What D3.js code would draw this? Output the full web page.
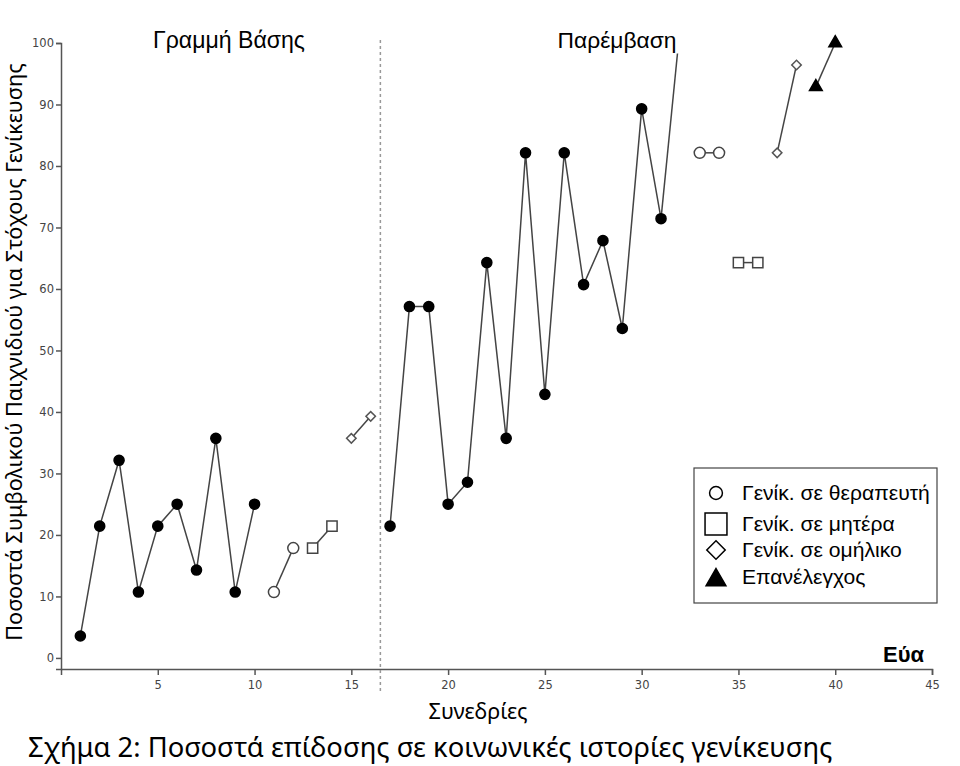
<!DOCTYPE html>
<html>
<head>
<meta charset="utf-8">
<script src="https://cdn.jsdelivr.net/npm/d3@7"></script>
<style>
  body { margin: 0; background: #fff; }
  .axis path, .axis line { stroke: #555; stroke-width: 1.5; }
  .axis text { font-family: 'DejaVu Sans', sans-serif; font-size: 11.5px; fill: #444; }
  .line { fill: none; stroke: #444; stroke-width: 1.5; }
</style>
</head>
<body>
<svg id="chart" width="960" height="766"></svg>
<script>
'use strict';

// sessions and values, one pair of arrays per connected group
var baseSessions = [1, 2, 3, 4, 5, 6, 7, 8, 9, 10];
var baseValues = [3.57, 21.43, 32.14, 10.71, 21.43, 25, 14.29, 35.71, 10.71, 25];

var interSessions = [17, 18, 19, 20, 21, 22, 23, 24, 25, 26, 27, 28, 29, 30, 31];
var interValues = [21.43, 57.14, 57.14, 25, 28.57, 64.29, 35.71, 82.14, 42.86, 82.14, 60.71, 67.86, 53.57, 89.29, 71.43];

// stray leader line from the last intervention point up to the label
var leaderSessions = [31, 31.85];
var leaderValues = [71.43, 98.3];

var therapistGroups = [[11, 12], [33, 34]];
var therapistValues = [[10.71, 17.86], [82.14, 82.14]];

var motherGroups = [[13, 14], [35, 36]];
var motherValues = [[17.86, 21.43], [64.29, 64.29]];

var peerGroups = [[15, 16], [37, 38]];
var peerValues = [[35.71, 39.29], [82.14, 96.43]];

var followSessions = [39, 40];
var followValues = [92.86, 100];

var xTicks = [5, 10, 15, 20, 25, 30, 35, 40, 45];
var yTicks = [0, 10, 20, 30, 40, 50, 60, 70, 80, 90, 100];
var phaseChange = 16.5;

var legendLabels = ['Γενίκ. σε θεραπευτή', 'Γενίκ. σε μητέρα', 'Γενίκ. σε ομήλικο', 'Επανέλεγχος'];
var legendShapes = ['circle', 'square', 'diamond', 'triangle'];

var svg = d3.select('#chart');

var x = d3.scaleLinear().domain([0, 45]).range([61, 932]);
var y = d3.scaleLinear().domain([-1.8, 100]).range([669, 43]);

svg.append('g')
  .attr('class', 'axis')
  .attr('transform', 'translate(0,' + y(-1.8) + ')')
  .call(d3.axisBottom(x).tickValues(xTicks).tickSizeOuter(0).tickSize(6).tickPadding(6));

svg.append('g')
  .attr('class', 'axis')
  .attr('transform', 'translate(' + x(0) + ',0)')
  .call(d3.axisLeft(y).tickValues(yTicks).tickSizeOuter(0).tickSize(5).tickPadding(2));

// phase change line
svg.append('line')
  .attr('x1', x(phaseChange)).attr('x2', x(phaseChange))
  .attr('y1', 40).attr('y2', 692)
  .attr('stroke', '#999')
  .attr('stroke-width', 1.5)
  .attr('stroke-dasharray', '3,3');

var line = d3.line()
  .x(function(d) { return x(d[0]); })
  .y(function(d) { return y(d[1]); });

function pairs(s, v) {
  return s.map(function(d, i) { return [d, v[i]]; });
}

var groups = [
  pairs(baseSessions, baseValues),
  pairs(interSessions, interValues),
  pairs(leaderSessions, leaderValues),
  pairs(followSessions, followValues)
];
therapistGroups.forEach(function(s, i) { groups.push(pairs(s, therapistValues[i])); });
motherGroups.forEach(function(s, i) { groups.push(pairs(s, motherValues[i])); });
peerGroups.forEach(function(s, i) { groups.push(pairs(s, peerValues[i])); });

svg.append('g').selectAll('path')
  .data(groups)
  .enter().append('path')
  .attr('class', 'line')
  .attr('d', line);

// diamond is a square turned by 45 degrees, as in the original
function shapePath(type, size) {
  var map = { circle: d3.symbolCircle, square: d3.symbolSquare, diamond: d3.symbolSquare, triangle: d3.symbolTriangle };
  return d3.symbol().type(map[type]).size(size)();
}
function shapeRotate(type) {
  return type === 'diamond' ? ' rotate(45)' : '';
}

function drawMarkers(data, type, size, fill, stroke) {
  svg.append('g').selectAll('path')
    .data(data)
    .enter().append('path')
    .attr('transform', function(d) { return 'translate(' + x(d[0]) + ',' + y(d[1]) + ')' + shapeRotate(type); })
    .attr('d', shapePath(type, size))
    .attr('fill', fill)
    .attr('stroke', stroke)
    .attr('stroke-width', 1.5);
}

drawMarkers(pairs(baseSessions, baseValues).concat(pairs(interSessions, interValues)), 'circle', 80, '#000', '#000');
therapistGroups.forEach(function(s, i) { drawMarkers(pairs(s, therapistValues[i]), 'circle', 95, '#fff', '#444'); });
motherGroups.forEach(function(s, i) { drawMarkers(pairs(s, motherValues[i]), 'square', 105, '#fff', '#444'); });
peerGroups.forEach(function(s, i) { drawMarkers(pairs(s, peerValues[i]), 'diamond', 45, '#fff', '#555'); });
drawMarkers(pairs(followSessions, followValues), 'triangle', 70, '#000', '#000');

// fit a text element to a given width
function fitWidth(sel, base, width) {
  sel.style('font-size', base + 'px');
  var len = sel.node().getComputedTextLength();
  sel.style('font-size', (base * width / len) + 'px');
}

// phase labels
var t1 = svg.append('text').attr('x', 229).attr('y', 48)
  .attr('text-anchor', 'middle')
  .style('font-family', 'Liberation Sans, Arial, sans-serif')
  .text('Γραμμή Βάσης');
fitWidth(t1, 22, 152);
var t2 = svg.append('text').attr('x', 617).attr('y', 48)
  .attr('text-anchor', 'middle')
  .style('font-family', 'Liberation Sans, Arial, sans-serif')
  .text('Παρέμβαση');
fitWidth(t2, 22, 119);

svg.append('text').attr('x', 924).attr('y', 662)
  .attr('text-anchor', 'end')
  .style('font-family', 'Liberation Sans, Arial, sans-serif').style('font-size', '22px').style('font-weight', 'bold')
  .text('Εύα');

// axis titles
var xt = svg.append('text').attr('x', 478).attr('y', 719)
  .attr('text-anchor', 'middle')
  .style('font-family', 'Noto Sans, sans-serif')
  .text('Συνεδρίες');
fitWidth(xt, 21, 99);

var yt = svg.append('text')
  .attr('transform', 'translate(22,352) rotate(-90)')
  .attr('text-anchor', 'middle')
  .style('font-family', 'Noto Sans, sans-serif')
  .text('Ποσοστά Συμβολικού Παιχνιδιού για Στόχους Γενίκευσης');
fitWidth(yt, 21, 578);

var cap = svg.append('text').attr('x', 28).attr('y', 757)
  .style('font-family', 'Noto Sans, sans-serif')
  .text('Σχήμα 2: Ποσοστά επίδοσης σε κοινωνικές ιστορίες γενίκευσης');
fitWidth(cap, 26, 805);

// legend
var legend = svg.append('g');
legend.append('rect')
  .attr('x', 694).attr('y', 468).attr('width', 243).attr('height', 135)
  .attr('fill', '#fff').attr('stroke', '#444').attr('stroke-width', 1.2);

var legendY = [493, 524, 550, 577];
var legendSizes = [130, 480, 170, 170];
var legendFill = ['#fff', '#fff', '#fff', '#000'];

legend.selectAll('.item')
  .data(legendLabels)
  .enter().append('g')
  .attr('transform', function(d, i) { return 'translate(0,' + legendY[i] + ')'; })
  .each(function(d, i) {
    var g = d3.select(this);
    g.append('path')
      .attr('transform', 'translate(716,' + (legendShapes[i] === 'triangle' ? 3 : 0) + ')' + shapeRotate(legendShapes[i]))
      .attr('d', shapePath(legendShapes[i], legendSizes[i]))
      .attr('fill', legendFill[i])
      .attr('stroke', '#000')
      .attr('stroke-width', 1.5);
    var t = g.append('text')
      .attr('x', 742).attr('y', 7)
      .style('font-family', 'Liberation Sans, Arial, sans-serif')
      .text(d);
    if (i === 0) fitWidth(t, 21, 188);
  });
legend.selectAll('text').style('font-size', legend.select('text').style('font-size'));
</script>
</body>
</html>
